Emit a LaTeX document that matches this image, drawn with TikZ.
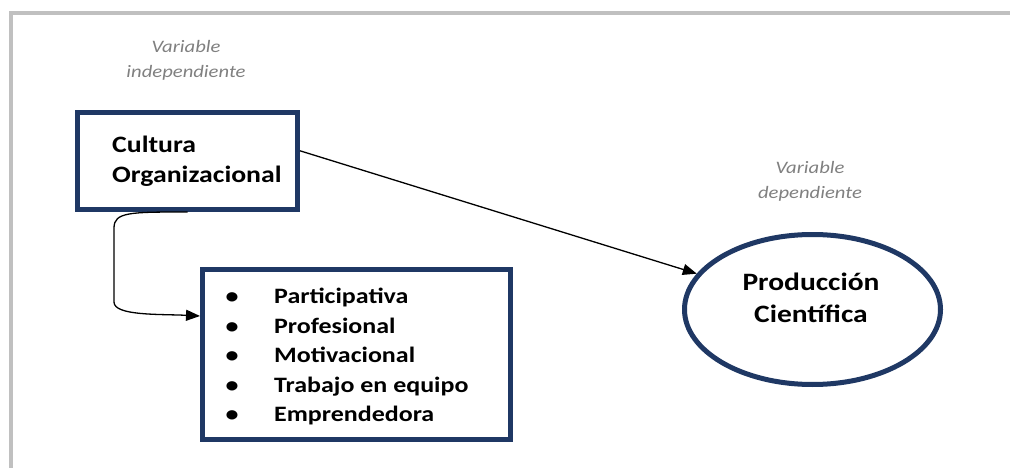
\documentclass[tikz,border=0pt]{standalone}
\usepackage{fontspec}
\setmainfont{Carlito}[FakeStretch=1.18]
\usetikzlibrary{arrows.meta,shapes.geometric,calc}
\definecolor{navy}{RGB}{31,56,100}
\definecolor{framegray}{RGB}{192,192,192}
\definecolor{labelgray}{RGB}{128,128,128}

\begin{document}
\begin{tikzpicture}[x=1pt,y=-1pt,
  navybox/.style={draw=navy, line width=5pt, fill=white, inner sep=0pt},
  navyoval/.style={ellipse, draw=navy, line width=5pt, fill=white, inner sep=0pt},
  boxtitle/.style={font=\bfseries\fontsize{23.5}{30}\selectfont, align=left, inner sep=0pt},
  ovaltitle/.style={font=\bfseries\fontsize{25}{32}\selectfont, align=center, inner sep=0pt},
  itemlist/.style={font=\bfseries\fontsize{22}{29.5}\selectfont, inner sep=0pt},
  varlabel/.style={font=\itshape\fontsize{17.5}{25}\selectfont, text=labelgray, align=center, inner sep=0pt},
  link/.style={line width=1.3pt, -{Triangle[length=14pt,width=11pt]}}
]
\useasboundingbox (0,0) rectangle (1010,468);

% page frame (top and left edges)
\draw[framegray, line width=4pt] (11,472) -- (11,13) -- (1014,13);

% independent variable
\node[varlabel] (indep) at (186,60.5) {Variable\\independiente};
\node[navybox, minimum width=220pt, minimum height=97pt] (cult) at (187.5,161) {};
\node[boxtitle, anchor=west] (cultT) at (112,161.5) {Cultura\\Organizacional};

% dimensions of the culture
\node[navybox, minimum width=308pt, minimum height=170pt] (list) at (356.5,354.5) {};
\node[itemlist, anchor=west] (items) at (226,357) {%
  \begin{tabular}{@{}l@{\hspace{36pt}}l@{}}
    \makebox[12pt]{\textbullet} & Participativa\\
    \makebox[12pt]{\textbullet} & Profesional\\
    \makebox[12pt]{\textbullet} & Motivacional\\
    \makebox[12pt]{\textbullet} & Trabajo en equipo\\
    \makebox[12pt]{\textbullet} & Emprendedora
  \end{tabular}};

% dependent variable
\node[varlabel] (dep) at (810,181) {Variable\\dependiente};
\node[navyoval, minimum width=256pt, minimum height=150pt] (prod) at (812.5,309.5) {};
\node[ovaltitle] (prodT) at (811,298) {Producción\\Científica};

% connectors
\coordinate (cultE) at ($(cult.north east)!0.4!(cult.south east)$);
\coordinate (listIn) at ($(list.north west)!0.28!(list.south west)$);
\draw[link] (cultE) -- (prod);
\draw[link] (cult.south) .. controls (130,212) and (114,212) .. (114,228)
  -- (114,302) .. controls (114,316) and (160,314) .. (listIn);
\end{tikzpicture}
\end{document}
